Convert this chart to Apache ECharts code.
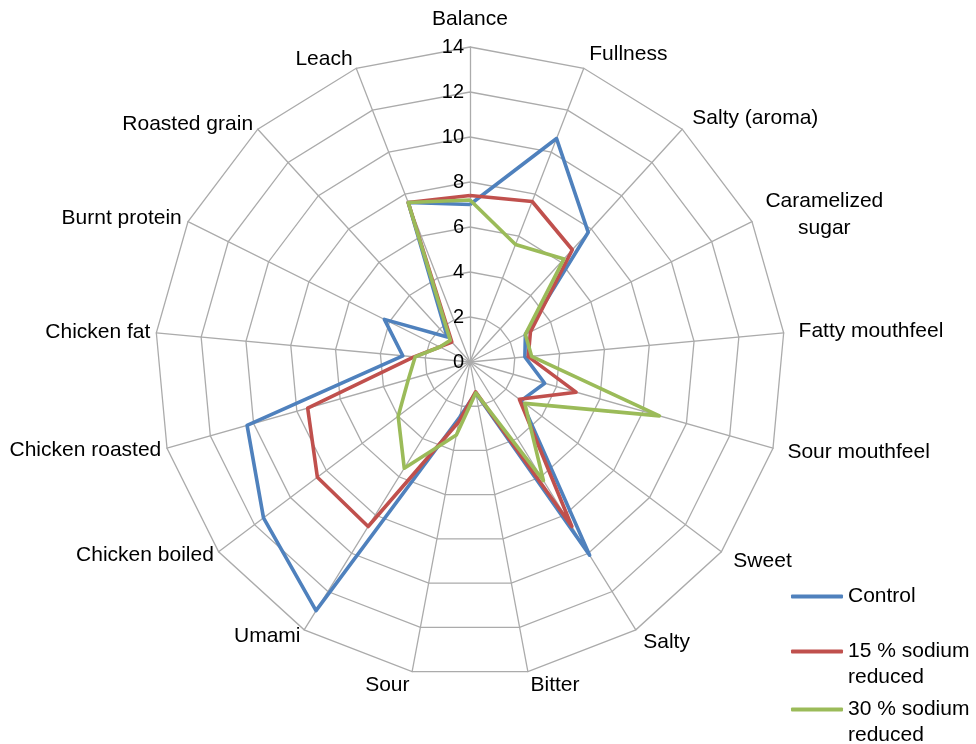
<!DOCTYPE html>
<html>
<head>
<meta charset="utf-8">
<script src="https://cdn.jsdelivr.net/npm/echarts@6/dist/echarts.min.js"></script>
<style>
html,body{margin:0;padding:0;background:#fff;}
#chart{width:976px;height:744px;}
</style>
</head>
<body>
<div id="chart"></div>
<script>
// Attributes, listed clockwise starting at the top
const categories = ['Balance', 'Fullness', 'Salty (aroma)', 'Caramelized\nsugar', 'Fatty mouthfeel',
  'Sour mouthfeel', 'Sweet', 'Salty', 'Bitter', 'Sour', 'Umami', 'Chicken boiled',
  'Chicken roasted', 'Chicken fat', 'Burnt protein', 'Roasted grain', 'Leach'];
const seriesNames = ['Control', '15 % sodium\nreduced', '30 % sodium\nreduced'];
const controlValues = [7.0, 10.65, 7.8, 2.75, 2.45, 3.45, 2.85, 10.1, 1.4, 2.5, 13.0, 11.5, 10.3, 3.0, 4.25, 1.5, 7.6];
const sodium15Values = [7.4, 7.65, 6.75, 3.0, 2.6, 4.9, 2.75, 8.6, 1.35, 2.7, 8.6, 8.5, 7.5, 2.5, 1.5, 1.2, 7.6];
const sodium30Values = [7.2, 5.6, 6.2, 2.75, 2.75, 8.75, 3.05, 6.2, 1.4, 3.3, 5.55, 4.0, 2.85, 2.45, 1.5, 1.3, 7.6];
const scaleMax = 14;
const scaleStep = 2;

const colors = ['#4F81BD', '#C0504D', '#9BBB59'];
const FONT = '"Liberation Sans", Arial, Helvetica, sans-serif';

// gap between the outer ring and each attribute name (left-side names sit closer)
const nameGaps = [14, 15, 15, 15, 15, 15, 15, 14, 14, 14, 7, 6, 6, 6, 7, 7, 10];

// ECharts radar places indicators counter-clockwise; reorder so they read clockwise
const order = [0];
for (let i = categories.length - 1; i >= 1; i--) order.push(i);
const reorder = arr => order.map(i => arr[i]);

const indicators = order.map((i, k) => {
  const ind = { name: categories[i], max: scaleMax, min: 0, nameGap: nameGaps[i] };
  if (k === 0) {
    ind.axisLabel = { show: true, color: '#000', fontSize: 20, fontFamily: FONT, margin: 6, showMinLabel: true, showMaxLabel: true };
  }
  return ind;
});

const allValues = [controlValues, sodium15Values, sodium30Values];

const chart = echarts.init(document.getElementById('chart'), null, { renderer: 'canvas' });
const legendTops = [583.5, 612.5, 670.5];
const legends = seriesNames.map((n, idx) => ({
  orient: 'vertical',
  left: 791,
  top: legendTops[idx],
  padding: 0,
  itemWidth: 52,
  itemHeight: 4,
  icon: 'roundRect',
  data: [{ name: n }],
  // multi-line entries: first line level with the line icon
  formatter: function (name) { return name.indexOf('\n') >= 0 ? '\n' + name : name; },
  textStyle: { color: '#000', fontSize: 21, fontFamily: FONT, lineHeight: 26 }
}));

chart.setOption({
  animation: false,
  backgroundColor: '#fff',
  color: colors,
  legend: legends,
  radar: {
    center: [470, 362],
    radius: 315,
    startAngle: 90,
    shape: 'polygon',
    splitNumber: scaleMax / scaleStep,
    indicator: indicators,
    axisNameGap: 14,
    axisName: {
      color: '#000',
      fontSize: 21,
      fontFamily: FONT,
      lineHeight: 27,
      formatter: function (name) {
        if (name.indexOf('\n') < 0) return name;
        return name.split('\n').map(s => '{c|' + s + '}').join('\n');
      },
      rich: { c: { align: 'center', color: '#000', fontSize: 21, fontFamily: FONT, lineHeight: 27 } }
    },
    axisLabel: { show: false },
    axisTick: { show: false },
    axisLine: { lineStyle: { color: '#ABABAB', width: 1.3 } },
    splitLine: { lineStyle: { color: '#ABABAB', width: 1.3 } },
    splitArea: { show: false }
  },
  series: [{
    type: 'radar',
    symbol: 'none',
    lineStyle: { width: 3.6 },
    data: allValues.map((vals, idx) => ({
      name: seriesNames[idx],
      value: reorder(vals),
      lineStyle: { color: colors[idx], width: 3.6 },
      itemStyle: { color: colors[idx] }
    }))
  }]
});
</script>
</body>
</html>
